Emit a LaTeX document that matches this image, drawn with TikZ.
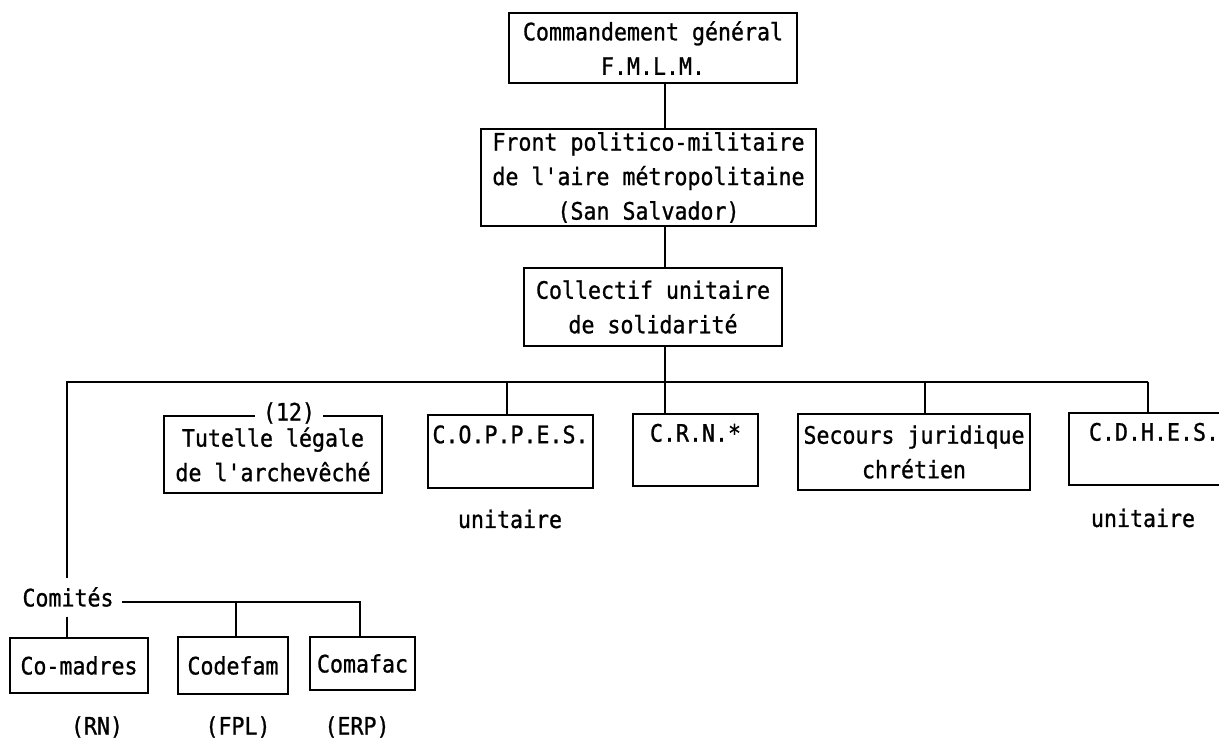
\documentclass[tikz,border=0pt]{standalone}
\usepackage{fontspec}
\setmonofont{DejaVu Sans Mono}[FakeStretch=0.9, FakeBold=1]
\newcommand\twfont{\ttfamily\fontsize{24}{34.5}\selectfont}
\begin{document}
\begin{tikzpicture}[x=1pt,y=-1pt, line width=1.6pt,
  box/.style={draw, rectangle, inner sep=0pt, align=center, font=\twfont},
  lbl/.style={inner sep=0pt, font=\twfont}]
\useasboundingbox (0,0) rectangle (1219,738);
% upper chain
\node[box, minimum width=288pt, minimum height=70pt] (cmd) at (653,48) {Commandement général\\F.M.L.M.};
\node[box, minimum width=335pt, minimum height=97pt] (front) at (648.5,177.5) {Front politico-militaire\\de l'aire métropolitaine\\(San Salvador)};
\node[box, minimum width=258pt, minimum height=78pt] (coll) at (653,307) {Collectif unitaire\\de solidarité};
% middle row
\node[box, minimum width=218pt, minimum height=77pt] (tut) at (273,454.5) {Tutelle légale\\de l'archevêché};
\node[lbl, fill=white, inner xsep=8pt, inner ysep=2pt] (n12) at (289,413) {(12)};
\node[box, minimum width=165pt, minimum height=73pt] (coppes) at (510.5,451.5) {C.O.P.P.E.S.\\\mbox{}};
\node[box, minimum width=125pt, minimum height=72pt] (crn) at (695.5,450) {C.R.N.*\\\mbox{}};
\node[box, minimum width=232pt, minimum height=76pt] (secours) at (914,452) {Secours juridique\\chrétien};
\node[box, minimum width=170pt, minimum height=72pt] (cdhes) at (1154,449) {C.D.H.E.S.\\\mbox{}};
\node[lbl] (u1) at (510,519) {unitaire};
\node[lbl] (u2) at (1143,518) {unitaire};
% committees
\node[lbl] (comites) at (68,597) {Comités};
\node[box, minimum width=138pt, minimum height=55pt] (comadres) at (79,665.5) {Co-madres};
\node[box, minimum width=110pt, minimum height=57pt] (codefam) at (233,665.5) {Codefam};
\node[box, minimum width=105pt, minimum height=53pt] (comafac) at (362.5,663.5) {Comafac};
\node[lbl] (rn) at (97,727) {(RN)};
\node[lbl] (fpl) at (238,727) {(FPL)};
\node[lbl] (erp) at (357,727) {(ERP)};
% connectors
\coordinate (sp) at (665,0);
\coordinate (busL) at (67,382);
\coordinate (busR) at (1148,382);
\coordinate (cl) at (122,602);
\coordinate (cr) at (360,602);
\draw (cmd.south -| sp) -- (front.north -| sp);
\draw (front.south -| sp) -- (coll.north -| sp);
\draw (coll.south -| sp) -- (crn.north -| sp);
\draw[shorten >=8pt] (busR) -- (busL) -- (comites.north -| busL);
\draw (busR) -- (cdhes.north -| busR);
\draw ([xshift=-3.5pt]coppes.north |- busL) -- ([xshift=-3.5pt]coppes.north);
\draw ([xshift=11pt]secours.north |- busL) -- ([xshift=11pt]secours.north);
\draw[shorten <=9pt] (comites.south -| busL) -- (comadres.north -| busL);
\draw (cl) -- (cr) -- (comafac.north -| cr);
\draw ([xshift=3pt]codefam.north |- cl) -- ([xshift=3pt]codefam.north);
\end{tikzpicture}
\end{document}
